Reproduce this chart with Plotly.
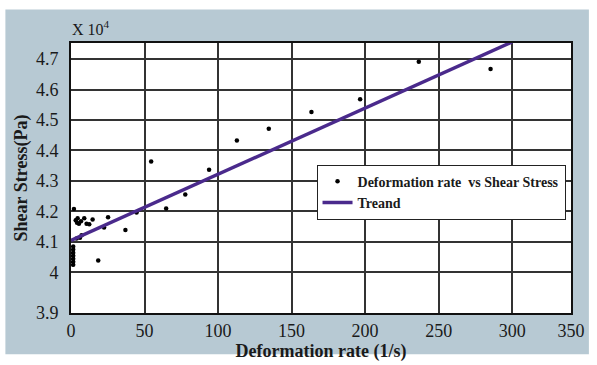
import plotly.graph_objects as go

# Deformation rate (1/s) vs Shear Stress (x 10^4 Pa)
rate = [2.0, 1.5, 1.5, 1.5, 1.5, 1.5, 1.5, 1.5, 18.5,
        3.2, 4.5, 5.4, 6.8, 4.1, 9.0, 10.6, 12.4, 14.7, 22.5, 25.2,
        7.2, 6.1, 3.8, 37.0, 44.6, 64.7, 77.7, 93.9, 54.5,
        112.8, 134.5, 163.5, 196.6, 236.5, 285.3]
stress = [4.208, 4.085, 4.075, 4.065, 4.055, 4.045, 4.035, 4.025, 4.039,
          4.171, 4.178, 4.160, 4.168, 4.163, 4.178, 4.160, 4.158, 4.174, 4.147, 4.181,
          4.122, 4.114, 4.111, 4.139, 4.197, 4.210, 4.256, 4.337, 4.364,
          4.433, 4.471, 4.526, 4.568, 4.691, 4.667]

trend_intercept = 4.105
trend_slope = 0.00217
trend_x = [0, 300]
trend_y = [trend_intercept + trend_slope * v for v in trend_x]

x_tickvals = [0, 50, 100, 150, 200, 250, 300, 340]
x_ticktext = ["0", "50", "100", "150", "200", "250", "300", "350"]
y_tickvals = [3.867, 4.0, 4.1, 4.2, 4.3, 4.4, 4.5, 4.6, 4.7]
y_ticktext = ["3.9", "4", "4.1", "4.2", "4.3", "4.4", "4.5", "4.6", "4.7"]

FONT = "Liberation Serif"
TXT = "#1a1a1a"

fig = go.Figure()
fig.add_trace(go.Scatter(
    x=rate, y=stress, mode="markers",
    marker=dict(color="black", size=4.5),
    name="Deformation rate  vs Shear Stress",
))
fig.add_trace(go.Scatter(
    x=trend_x, y=trend_y, mode="lines",
    line=dict(color="#4a2a8c", width=3.5),
    name="Treand",
))

L, R, T, B = 71, 23, 43, 47
pw, ph = 597 - L - R, 365 - T - B

def px_x(p):
    return (p - L) / pw

def px_y(p):
    return (365 - B - p) / ph

fig.update_layout(
    width=597, height=365,
    margin=dict(l=L, r=R, t=T, b=B, pad=0),
    paper_bgcolor="white",
    plot_bgcolor="rgba(0,0,0,0)",
    font=dict(family=FONT, color=TXT),
    showlegend=True,
    legend=dict(
        x=px_x(318), y=px_y(167), xanchor="left", yanchor="top",
        bgcolor="white", bordercolor="#222", borderwidth=1,
        font=dict(family=FONT, size=14, color=TXT, weight="bold"),
        tracegroupgap=0, itemwidth=30,
    ),
    shapes=[
        dict(type="rect", xref="paper", yref="paper", layer="below",
             x0=px_x(5), x1=px_x(592), y0=px_y(360), y1=px_y(9),
             fillcolor="#b7c9d3", line=dict(width=0)),
        dict(type="rect", xref="paper", yref="paper", layer="below",
             x0=0, x1=1, y0=0, y1=1,
             fillcolor="white", line=dict(width=0)),
    ],
    annotations=[
        dict(text="X 10<sup>4</sup>", xref="paper", yref="paper",
             x=px_x(70), y=px_y(28), xanchor="left", yanchor="middle",
             showarrow=False, font=dict(family=FONT, size=16, color=TXT)),
    ],
)

fig.update_xaxes(
    range=[0, 340], tickvals=x_tickvals, ticktext=x_ticktext,
    showgrid=True, gridcolor="#333", gridwidth=1.5,
    showline=True, linecolor="#111", linewidth=2, mirror=True,
    zeroline=False, ticks="",
    tickfont=dict(family=FONT, size=18, color=TXT),
    title=dict(text="<b>Deformation rate (1/s)</b>", standoff=0,
               font=dict(family=FONT, size=18, color=TXT)),
)
fig.update_yaxes(
    range=[3.867, 4.7525], tickvals=y_tickvals, ticktext=y_ticktext,
    showgrid=True, gridcolor="#333", gridwidth=1.5,
    showline=True, linecolor="#111", linewidth=2, mirror=True,
    zeroline=False, ticks="",
    ticklabelstandoff=7,
    tickfont=dict(family=FONT, size=18, color=TXT),
    title=dict(text="<b>Shear Stress(Pa)</b>", standoff=4,
               font=dict(family=FONT, size=18, color=TXT)),
)

fig.write_html("out.html",
               config={"displayModeBar": False},
               post_script="document.body.style.margin='0';document.body.style.overflow='hidden';")
